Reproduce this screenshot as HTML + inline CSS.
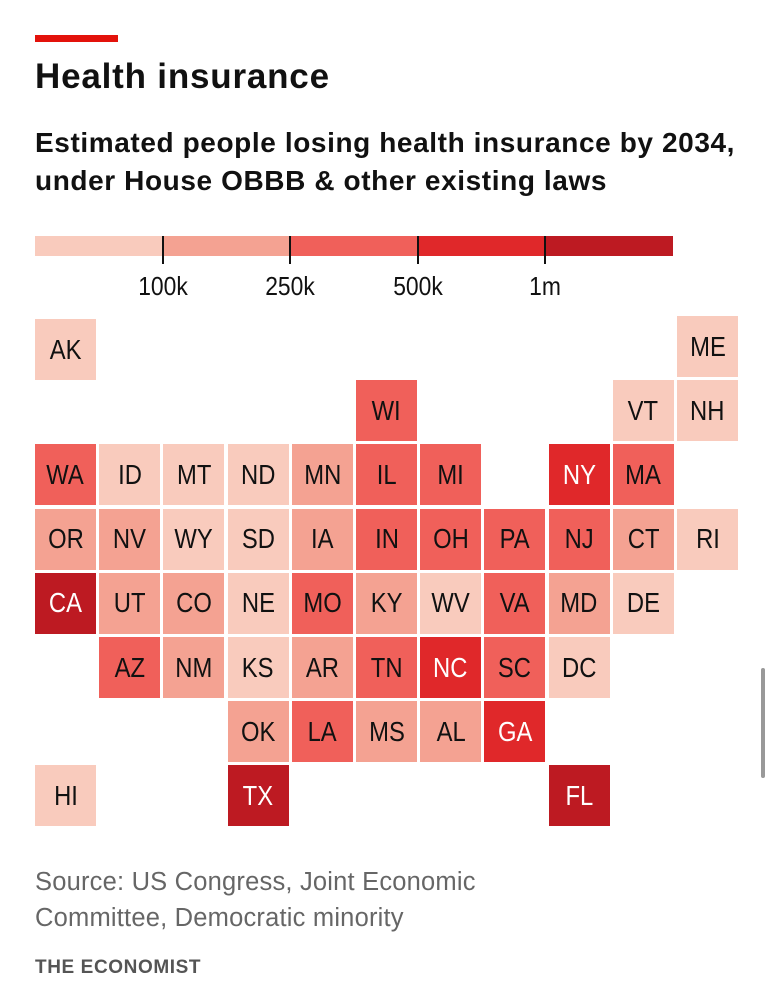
<!DOCTYPE html>
<html><head><meta charset="utf-8"><style>
body{margin:0;width:771px;height:1000px;background:#fff;position:relative;overflow:hidden;font-family:"Liberation Sans",sans-serif;color:#111}
.abs{position:absolute}
.cell{position:absolute;width:61px;height:61px;display:flex;align-items:center;justify-content:center;font-size:28px}
.cell span{display:inline-block;transform:scaleX(0.85)}
.tl{position:absolute;top:271px;font-size:26px;transform:translateX(-50%) scaleX(0.88)}
</style></head><body>
<div class="abs" style="left:35px;top:35px;width:83px;height:7px;background:#e3120b"></div>
<div class="abs" style="left:35px;top:57px;font-size:35px;font-weight:bold;letter-spacing:0.8px">Health insurance</div>
<div class="abs" style="left:35px;top:124px;font-size:28px;font-weight:bold;line-height:38px;width:740px;white-space:nowrap;letter-spacing:0.6px">Estimated people losing health insurance by 2034,<br>under House OBBB &amp; other existing laws</div>
<div id="legend"></div>
<div id="map"></div>
<div class="abs" style="left:35px;top:864px;font-size:25.5px;color:#666;line-height:36px;letter-spacing:0.2px">Source: US Congress, Joint Economic<br>Committee, Democratic minority</div>
<div class="abs" style="left:35px;top:957px;font-size:19px;font-weight:bold;color:#555;letter-spacing:0.6px">THE ECONOMIST</div>
<div class="abs" style="left:761px;top:668px;width:4px;height:110px;border-radius:2px;background:#999"></div>
<script>
const binColors=["#f9cbbd","#f4a292","#f0605a","#e0282a","#bd1a22"];
const thresholds=[100000,250000,500000,1000000];
const tickLabels=["100k","250k","500k","1m"];
const states=["AK","ME","WI","VT","NH","WA","ID","MT","ND","MN","IL","MI","NY","MA","OR","NV","WY","SD","IA","IN","OH","PA","NJ","CT","RI","CA","UT","CO","NE","MO","KY","WV","VA","MD","DE","AZ","NM","KS","AR","TN","NC","SC","DC","OK","LA","MS","AL","GA","HI","TX","FL"];
const cols=[0,10,5,9,10,0,1,2,3,4,5,6,8,9,0,1,2,3,4,5,6,7,8,9,10,0,1,2,3,4,5,6,7,8,9,1,2,3,4,5,6,7,8,3,4,5,6,7,0,3,8];
const rows=[0,0,1,1,1,2,2,2,2,2,2,2,2,2,3,3,3,3,3,3,3,3,3,3,3,4,4,4,4,4,4,4,4,4,4,5,5,5,5,5,5,5,5,6,6,6,6,6,7,7,7];
const losses=[40000,60000,300000,20000,60000,350000,80000,70000,40000,200000,450000,420000,700000,300000,230000,220000,30000,40000,150000,320000,450000,400000,380000,180000,50000,3400000,150000,230000,80000,300000,220000,90000,330000,200000,50000,350000,150000,90000,160000,350000,600000,300000,50000,200000,330000,180000,200000,700000,60000,1700000,1400000];
function bin(v){let b=0;for(const t of thresholds)if(v>=t)b++;return b;}
const X0=35,Y0=316,P=64.2;
const map=document.getElementById('map');
states.forEach((s,i)=>{
 const d=document.createElement('div');d.className='cell';
 const b=bin(losses[i]);
 d.style.left=(X0+cols[i]*P)+'px';d.style.top=(Y0+rows[i]*P+(s==='AK'?3:0))+'px';
 d.style.background=binColors[b];d.style.color=b>=3?'#fff':'#111';
 const sp=document.createElement('span');sp.textContent=s;d.appendChild(sp);
 
 
 map.appendChild(d);
});
const lg=document.getElementById('legend');
const LX=35,LW=638,SW=LW/binColors.length;
binColors.forEach((c,i)=>{
 const r=document.createElement('div');r.className='abs';
 r.style.cssText=`left:${LX+i*SW}px;top:236px;width:${SW+0.5}px;height:20px;background:${c}`;
 
 
 lg.appendChild(r);
});
tickLabels.forEach((t,i)=>{
 const x=LX+(i+1)*SW;
 const k=document.createElement('div');k.className='abs';
 k.style.cssText=`left:${x-1}px;top:236px;width:2px;height:28px;background:#111`;
 
 
 lg.appendChild(k);
 const l=document.createElement('div');l.className='tl';l.style.left=x+'px';l.textContent=t;
 
 
 lg.appendChild(l);
});
</script>
</body></html>
